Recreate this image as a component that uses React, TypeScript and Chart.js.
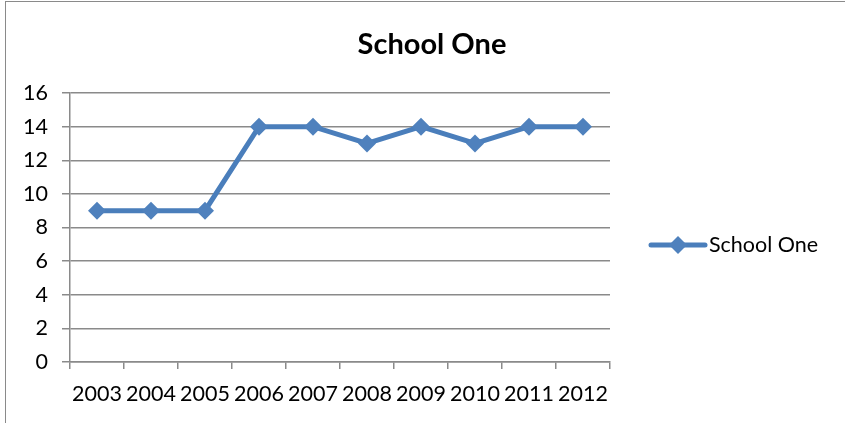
import React, { useEffect, useRef } from "react";
import { Chart, registerables } from "chart.js";

Chart.register(...registerables);

const chartTitle = "School One";
const seriesName = "School One";
const years = ["2003", "2004", "2005", "2006", "2007", "2008", "2009", "2010", "2011", "2012"];
const schoolOne = [9, 9, 9, 14, 14, 13, 14, 13, 14, 14];
const yMin = 0;
const yMax = 16;
const yStep = 2;

const LINE = "#4A7EBB";
const MARK = "#4F81BD";
const GRID = "#8A8A8A";
const FONT = "Lato, 'Liberation Sans', sans-serif";

const decor = {
  id: "decor",
  afterDraw(chart: any) {
    const ctx = chart.ctx;
    ctx.save();
    // title
    ctx.fillStyle = "#000";
    ctx.font = `bold 29px ${FONT}`;
    ctx.textAlign = "center";
    ctx.textBaseline = "middle";
    ctx.fillText(chartTitle, 432, 45);
    // legend
    const ly = 245;
    ctx.strokeStyle = LINE;
    ctx.lineWidth = 5;
    ctx.lineCap = "round";
    ctx.beginPath();
    ctx.moveTo(651, ly);
    ctx.lineTo(705, ly);
    ctx.stroke();
    ctx.fillStyle = MARK;
    ctx.beginPath();
    ctx.moveTo(678, ly - 9);
    ctx.lineTo(687, ly);
    ctx.lineTo(678, ly + 9);
    ctx.lineTo(669, ly);
    ctx.closePath();
    ctx.fill();
    ctx.fillStyle = "#000";
    ctx.font = `21.5px ${FONT}`;
    ctx.textAlign = "left";
    ctx.fillText(seriesName, 709, ly);
    ctx.restore();
  },
};

export default function App() {
  const ref = useRef<HTMLCanvasElement>(null);
  useEffect(() => {
    if (!ref.current) return;
    const chart = new Chart(ref.current, {
      type: "line",
      data: {
        labels: years,
        datasets: [
          {
            label: seriesName,
            data: schoolOne,
            borderColor: LINE,
            backgroundColor: MARK,
            borderWidth: 5,
            pointStyle: "rectRot",
            pointRadius: 9,
            pointBorderWidth: 0,
            pointBackgroundColor: MARK,
            tension: 0,
          },
        ],
      },
      options: {
        responsive: false,
        animation: false,
        layout: { padding: { left: 0, right: 235, top: 93, bottom: 0 } },
        plugins: {
          legend: { display: false },
          title: { display: false },
          tooltip: { enabled: false },
        },
        scales: {
          x: {
            offset: true,
            grid: {
              offset: true,
              drawOnChartArea: false,
              drawTicks: true,
              tickLength: 7,
              color: GRID,
              lineWidth: 1.5,
            },
            border: { display: true, color: GRID, width: 1.5 },
            ticks: {
              color: "#000",
              font: { family: FONT, size: 21.5 },
              padding: 12,
              maxRotation: 0,
              autoSkip: false,
            },
            afterFit(scale: any) {
              scale.height = 61;
            },
          },
          y: {
            min: yMin,
            max: yMax,
            grid: {
              color: GRID,
              lineWidth: 1.5,
              tickLength: 8,
            },
            border: { display: true, color: GRID, width: 1.5 },
            ticks: {
              stepSize: yStep,
              color: "#000",
              font: { family: FONT, size: 21.5 },
              padding: 14,
            },
            afterFit(scale: any) {
              scale.width = 70;
            },
          },
        },
      },
      plugins: [decor],
    });
    return () => chart.destroy();
  }, []);

  return (
    <div style={{ position: "fixed", left: 0, top: 0, width: 845, height: 423, background: "#fff", overflow: "hidden" }}>
      <div
        style={{
          position: "absolute",
          left: 5,
          top: 1,
          width: 900,
          height: 500,
          border: "1.5px solid #8A8A8A",
          boxSizing: "border-box",
        }}
      />
      <canvas ref={ref} width={845} height={423} style={{ position: "absolute", left: 0, top: 0 }} />
    </div>
  );
}
